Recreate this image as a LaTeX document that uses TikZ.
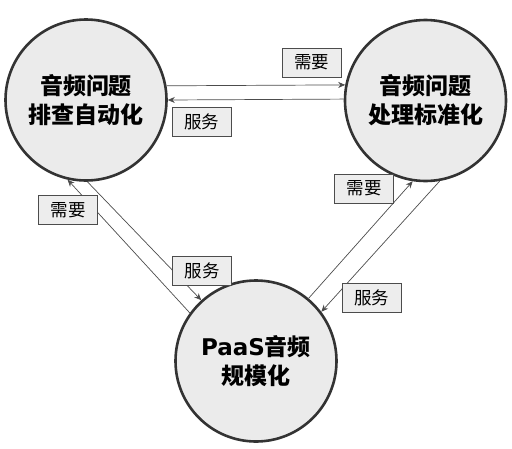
\documentclass[tikz,border=0pt]{standalone}
\usepackage{fontspec}
\newfontfamily\cjk{Noto Sans CJK SC}
\newfontfamily\latb{DejaVu Sans}
\usetikzlibrary{arrows.meta}
\begin{document}
\begin{tikzpicture}[x=1pt,y=-1pt,
  circ/.style={circle, draw=black!80, line width=2.6pt, fill=black!8, minimum size=161pt, inner sep=0pt, align=center, font=\cjk\bfseries\fontsize{23}{29}\selectfont},
  lbl/.style={draw=black!70, fill=black!7, line width=0.6pt, minimum width=59pt, minimum height=29pt, inner sep=0pt, font=\cjk\fontsize{17.5}{19}\selectfont},
  conn/.style={draw=black!70, line width=0.7pt, -{Stealth[length=7pt,width=6pt]}}]
\useasboundingbox (0,0) rectangle (512,448);
\node[circ] (A) at (86,100) {音频问题\\排查自动化};
\node[circ] (B) at (425.5,100.5) {音频问题\\处理标准化};
\node[circ] (C) at (256,361) {{\latb\bfseries PaaS}音频\\规模化};
% A <-> B
\draw[conn] (A.10.6) -- (B.169.5);
\draw[conn] (B.179.3) -- (A.0.6);
% A <-> C
\draw[conn] (C.144) -- (A.-103);
\draw[conn] (A.-89.3) -- (C.132);
% B <-> C
\draw[conn] (C.50.8) -- (B.-99.7);
\draw[conn] (B.-80.8) -- (C.37.4);
% labels
\node[lbl] (l1) at (311.5,62.5) {需要};
\node[lbl] (l2) at (201.5,121.5) {服务};
\node[lbl] (l3) at (68,210) {需要};
\node[lbl] (l4) at (202,271) {服务};
\node[lbl] (l5) at (364,188.5) {需要};
\node[lbl] (l6) at (371.5,298) {服务};
\end{tikzpicture}
\end{document}
